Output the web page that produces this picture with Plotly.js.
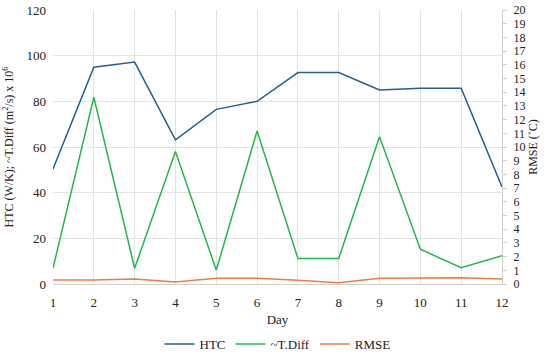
<!DOCTYPE html>
<html>
<head>
<meta charset="utf-8">
<script src="https://cdn.plot.ly/plotly-3.0.1.min.js"></script>
<style>html,body{margin:0;padding:0;background:#fff}#chart{width:550px;height:359px}</style>
</head>
<body>
<div id="chart"></div>
<script>
var days = [1,2,3,4,5,6,7,8,9,10,11,12];
var htc = [50.4,94.9,97.2,63.1,76.5,80.0,92.6,92.6,85.0,85.7,85.7,42.5];
var tdiff = [6.9,81.8,6.9,58.0,6.1,67.0,11.2,11.2,64.5,15.2,7.1,12.4];
var rmse = [0.30,0.30,0.36,0.15,0.42,0.42,0.27,0.10,0.42,0.46,0.46,0.36];
var dayTicks = days.map(String);

var FONT = "Liberation Serif";
var TF = {family: FONT, size: 13, color: "#222"};
var traces = [
  {x: days, y: htc, name: "HTC", type: "scatter", mode: "lines", line: {color: "#255E91", width: 1.5}},
  {x: days, y: tdiff, name: "~T.Diff", type: "scatter", mode: "lines", line: {color: "#22B84A", width: 1.5}},
  {x: days, y: rmse, name: "RMSE", type: "scatter", mode: "lines", yaxis: "y2", line: {color: "#F07B3F", width: 1.5}}
];
var layout = {
  width: 550, height: 359,
  margin: {l: 53, r: 48, t: 10, b: 75, autoexpand: false},
  paper_bgcolor: "#fff", plot_bgcolor: "#fff",
  font: {family: FONT, size: 13, color: "#222"},
  showlegend: true,
  legend: {orientation: "h", x: 0.5, xanchor: "center", yref: "container", y: 0.0, yanchor: "bottom", font: {family: FONT, size: 13}, traceorder: "normal", itemwidth: 30},
  xaxis: {
    range: [1, 12], tickvals: days, ticktext: dayTicks, automargin: false,
    tickfont: TF, ticklabelstandoff: 6,
    showgrid: true, gridcolor: "#e3e3e3", zeroline: false,
    showline: true, linecolor: "#d0d0d0", ticks: "", ticklen: 0,
    title: {text: "Day", font: {family: FONT, size: 13}, standoff: 6}
  },
  yaxis: {
    range: [0, 120], dtick: 20, showgrid: true, gridcolor: "#e3e3e3", zeroline: false,
    showline: false, ticks: "", automargin: false,
    tickfont: TF, ticklabelstandoff: 6,
    title: {text: "HTC (W/K); ~T.Diff (m<sup>2</sup>/s) x 10<sup>6</sup>", font: {family: FONT, size: 12}, standoff: 10}
  },
  yaxis2: {
    overlaying: "y", side: "right", range: [0, 20], dtick: 1, automargin: false,
    showgrid: false, zeroline: false, showline: true, linecolor: "#d0d0d0",
    tickfont: {family: FONT, size: 12, color: "#222"}, ticklabelstandoff: 4,
    ticks: "outside", ticklen: 4, tickcolor: "#d0d0d0",
    title: {text: "RMSE (˚C)", font: {family: FONT, size: 12}, standoff: 4}
  }
};
Plotly.newPlot("chart", traces, layout, {displayModeBar: false, staticPlot: true});
</script>
</body>
</html>
